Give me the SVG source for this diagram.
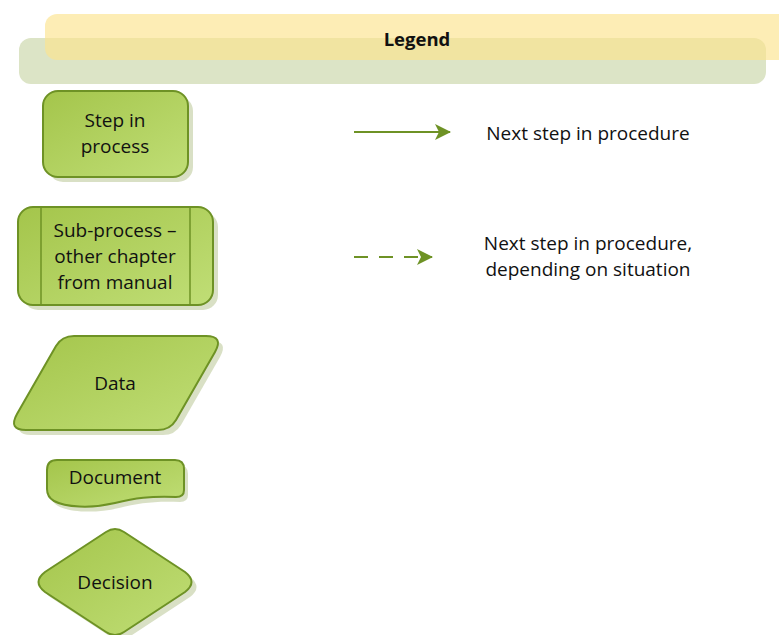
<svg xmlns="http://www.w3.org/2000/svg" width="779" height="635" viewBox="0 0 779 635">
<defs>
<linearGradient id="g" x1="0" y1="0" x2="1" y2="1">
<stop offset="0" stop-color="#a4c54b"/>
<stop offset="1" stop-color="#c0de76"/>
</linearGradient>
<marker id="ah" viewBox="0 0 16 16" refX="15" refY="8" markerWidth="16" markerHeight="16" markerUnits="userSpaceOnUse" orient="auto">
<path d="M0,0 L16,8 L0,16 L4,8 Z" fill="#6e9225"/>
</marker>
<style>
.sh{fill:#cfd8b6;opacity:0.8}
.nd{fill:url(#g);stroke:#6e9225;stroke-width:2}
.t{font-family:"Open Sans","Liberation Sans",sans-serif;font-size:19px;fill:#111;text-anchor:middle;dominant-baseline:central}
.ln{stroke:#6e9225;stroke-width:2;fill:none}
</style>
</defs>
<g id="legend-header">
<rect x="19" y="38" width="747" height="46" rx="12" fill="#dce4c6"/>
<rect x="45" y="14" width="750" height="46" rx="12" fill="#fce48d" opacity="0.65"/>
<text x="417" y="38" class="t" style="font-weight:bold;font-size:18.5px">Legend</text>
</g>
<g id="step">
<rect x="48" y="96" width="145" height="86" rx="15" class="sh"/>
<rect x="43" y="91" width="145" height="86" rx="15" class="nd"/>
<text x="115" y="120" class="t">Step in</text>
<text x="115" y="146" class="t">process</text>
</g>
<g id="subprocess">
<rect x="23" y="212" width="195" height="98" rx="15" class="sh"/>
<rect x="18" y="207" width="195" height="98" rx="15" class="nd"/>
<line x1="41" y1="207" x2="41" y2="305" class="ln" style="stroke-width:1.5"/>
<line x1="190" y1="207" x2="190" y2="305" class="ln" style="stroke-width:1.5"/>
<text x="115" y="230" class="t">Sub-process –</text>
<text x="115" y="256" class="t">other chapter</text>
<text x="115" y="282" class="t">from manual</text>
</g>
<g id="data">
<path transform="translate(5,5)" class="sh" d="M74,336 L206,336 Q224,336 215,352 L176,420 Q170,430 158,430 L26,430 Q8,430 17,414 L56,346 Q62,336 74,336 Z"/>
<path class="nd" d="M74,336 L206,336 Q224,336 215,352 L176,420 Q170,430 158,430 L26,430 Q8,430 17,414 L56,346 Q62,336 74,336 Z"/>
<text x="115" y="383" class="t">Data</text>
</g>
<g id="document">
<path transform="translate(4,5)" class="sh" d="M57,460 L175,460 Q184,460 184,469 L184,490 Q184,497 176,497 C150,496 135,498 115,503 C90,509 65,507 54,501 Q47,497 47,489 L47,470 Q47,460 57,460 Z"/>
<path class="nd" d="M57,460 L175,460 Q184,460 184,469 L184,490 Q184,497 176,497 C150,496 135,498 115,503 C90,509 65,507 54,501 Q47,497 47,489 L47,470 Q47,460 57,460 Z"/>
<text x="115" y="477" class="t">Document</text>
</g>
<g id="decision">
<path transform="translate(5,5)" class="sh" d="M106,532 Q115,526 124,532 L185,572 Q198,582 185,592 L124,632 Q115,638 106,632 L45,592 Q32,582 45,572 Z"/>
<path class="nd" d="M106,532 Q115,526 124,532 L185,572 Q198,582 185,592 L124,632 Q115,638 106,632 L45,592 Q32,582 45,572 Z"/>
<text x="115" y="582" class="t">Decision</text>
</g>
<g id="connectors">
<line x1="354" y1="132" x2="450" y2="132" class="ln" marker-end="url(#ah)"/>
<line x1="354" y1="257" x2="432" y2="257" class="ln" stroke-dasharray="14 11" marker-end="url(#ah)"/>
</g>
<g id="labels">
<text x="588" y="133" class="t">Next step in procedure</text>
<text x="588" y="243" class="t">Next step in procedure,</text>
<text x="588" y="269" class="t">depending on situation</text>
</g>
</svg>
